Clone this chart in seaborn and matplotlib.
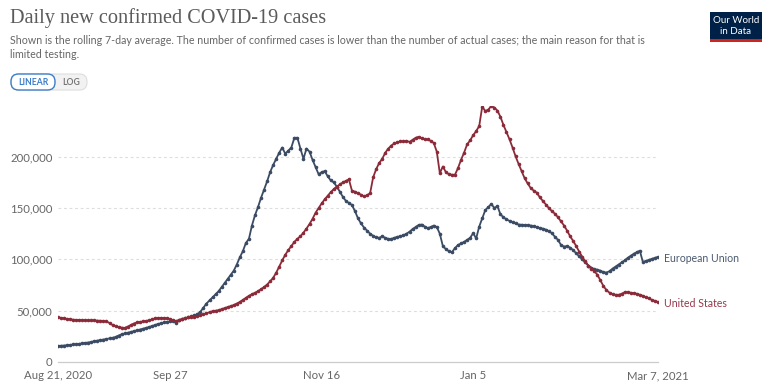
import matplotlib
matplotlib.use("Agg")
import matplotlib.pyplot as plt
from matplotlib.patches import FancyBboxPatch, Rectangle
from matplotlib.ticker import FuncFormatter
import seaborn as sns
import pandas as pd

# daily 7-day average of new cases, thousands, Aug 21 2020 .. Mar 7 2021
eu_cases = [
    15.6, 15.8, 16.0, 16.3, 16.7, 17.1, 17.4, 17.7, 18.1, 18.6,
    19.0, 19.5, 20.3, 20.8, 21.3, 21.8, 22.4, 23.0, 23.6, 24.4,
    25.8, 27.0, 27.8, 28.5, 29.2, 30.0, 30.8, 31.6, 32.4, 33.2,
    34.0, 35.0, 36.0, 37.0, 37.8, 38.5, 39.0, 39.5, 40.0, 38.0,
    40.5, 41.5, 42.5, 43.5, 44.5, 45.5, 46.5, 49.0, 53.0, 57.0,
    60.0, 63.0, 66.0, 69.0, 73.0, 77.0, 81.0, 85.0, 89.0, 95.0,
    102.0, 108.0, 116.0, 120.0, 133.0, 143.0, 151.0, 160.0, 168.0, 176.0,
    185.0, 192.0, 198.0, 204.0, 209.0, 203.0, 206.0, 209.0, 218.5, 218.5,
    208.0, 198.0, 208.0, 205.0, 197.0, 190.0, 183.0, 185.0, 186.0, 181.0,
    177.0, 175.0, 171.0, 166.0, 161.0, 157.0, 155.0, 153.0, 147.0, 140.0,
    135.0, 131.0, 128.0, 125.0, 123.0, 121.5, 121.0, 122.5, 121.0, 120.0,
    120.0, 121.0, 122.0, 122.5, 123.5, 125.0, 127.0, 129.5, 131.5, 133.5,
    134.0, 132.0, 130.5, 131.5, 133.0, 131.5, 125.0, 113.0, 110.0, 108.0,
    107.0, 111.0, 114.0, 115.5, 117.0, 119.0, 121.0, 125.5, 120.5, 132.0,
    140.0, 148.0, 151.0, 154.0, 150.0, 152.0, 144.0, 141.0, 139.0, 137.5,
    136.0, 135.0, 134.0, 133.8, 133.5, 133.3, 133.0, 132.5, 131.5, 130.5,
    130.0, 129.0, 127.5, 125.5, 122.0, 119.0, 114.0, 112.5, 113.0, 111.5,
    109.0, 106.0, 103.0, 100.0, 97.0, 94.0, 92.0, 90.5, 90.0, 89.0,
    87.5, 87.2, 88.5, 91.0, 93.0, 95.0, 97.0, 99.0, 101.5, 103.5,
    105.5, 107.0, 108.5, 97.5, 98.5, 99.5, 100.5, 101.5, 102.5,
]
us_cases = [
    43.5, 43.0, 42.5, 42.0, 41.5, 41.2, 41.0, 41.0, 40.8, 40.6,
    40.5, 40.5, 40.5, 40.3, 40.2, 40.0, 39.5, 38.0, 36.0, 35.0,
    34.0, 33.5, 33.2, 34.5, 36.0, 37.5, 38.5, 39.0, 39.5, 40.0,
    40.5, 41.5, 42.5, 42.8, 43.0, 42.8, 42.5, 42.0, 40.5, 40.0,
    41.0, 42.0, 42.8, 43.5, 44.0, 44.2, 44.5, 45.5, 46.5, 47.5,
    48.5, 49.5, 50.0, 50.5, 51.5, 52.5, 53.5, 54.5, 55.5, 57.0,
    58.5, 60.5, 62.5, 64.5, 66.0, 67.5, 69.0, 71.0, 73.0, 75.5,
    78.5, 82.0, 87.0, 93.0, 99.0, 104.5, 109.0, 113.0, 117.0, 120.0,
    122.5, 126.0, 130.0, 134.5, 139.5, 145.5, 150.0, 154.5, 158.5, 162.0,
    165.5, 168.5, 171.0, 173.0, 175.0, 176.5, 178.0, 167.0, 166.0, 164.5,
    163.0, 161.5, 162.5, 164.5, 180.0, 188.0, 194.0, 198.0, 204.0, 208.0,
    211.0, 213.0, 214.0, 215.0, 215.0, 215.5, 214.5, 216.5, 218.5, 219.5,
    218.0, 217.0, 217.0, 215.5, 213.5, 205.0, 184.0, 190.5, 185.0, 183.0,
    182.5, 182.5, 189.0, 197.0, 204.0, 212.0, 216.0, 221.0, 225.0, 230.0,
    249.0, 244.5, 246.0, 249.5, 248.0, 245.0, 239.0, 231.0, 224.0, 217.0,
    209.0, 200.5, 193.0, 186.0, 179.0, 174.0, 169.5, 167.0, 165.0, 160.5,
    157.0, 153.5, 150.0, 147.0, 144.5, 141.0, 137.0, 133.0, 128.0, 122.5,
    118.0, 113.0, 107.5, 102.5, 98.0, 94.0, 91.0, 88.5, 85.0, 79.5,
    74.0, 70.0, 67.5, 66.0, 65.5, 65.5, 66.5, 68.0, 68.0, 67.5,
    67.0, 66.5, 65.5, 64.5, 63.0, 62.0, 60.5, 59.5, 58.5,
]
dates = pd.date_range("2020-08-21", "2021-03-07", freq="D")
tick_dates = pd.to_datetime(["2020-08-21", "2020-09-27", "2020-11-16", "2021-01-05", "2021-03-07"])
tick_labels = ["Aug 21, 2020", "Sep 27", "Nov 16", "Jan 5", "Mar 7, 2021"]
y_ticks = [0, 50000, 100000, 150000, 200000]

series = {"European Union": eu_cases, "United States": us_cases}
colors = {"European Union": "#3b4b63", "United States": "#8b2b3a"}
label_colors = {"European Union": "#4b5a70", "United States": "#96384a"}

df = pd.concat(
    [pd.DataFrame({"date": dates, "cases": [v * 1000 for v in vals], "country": name})
     for name, vals in series.items()],
    ignore_index=True,
)

sns.set_style("white")
plt.rcParams["font.family"] = ["Lato", "DejaVu Sans"]

W, H = 772, 391
fig = plt.figure(figsize=(W / 100, H / 100), dpi=100)

# full-figure overlay in pixel units for header decorations
deco = fig.add_axes([0, 0, 1, 1], zorder=-1)
deco.set_xlim(0, W)
deco.set_ylim(H, 0)
deco.axis("off")

ax = fig.add_axes([58 / W, 1 - 362 / H, 600 / W, 256 / H])
sns.lineplot(data=df, x="date", y="cases", hue="country", palette=colors,
             marker="o", markersize=2.6, markeredgewidth=0, linewidth=1.3,
             legend=False, ax=ax)

ax.set_xlim(dates[0], dates[-1])
ax.set_ylim(0, df["cases"].max())
ax.set_xlabel("")
ax.set_ylabel("")
ax.set_yticks(y_ticks)
ax.yaxis.set_major_formatter(FuncFormatter(lambda v, p: f"{int(v):,}"))
ax.set_xticks(tick_dates)
ax.set_xticklabels(tick_labels)
ax.tick_params(axis="y", length=0, pad=4, labelsize=8.2, labelcolor="#666666")
ax.tick_params(axis="x", length=4, width=0.8, color="#cccccc", pad=2,
               labelsize=8.2, labelcolor="#666666")
for v in y_ticks[1:]:
    ax.axhline(v, color="#dddddd", linewidth=0.8, linestyle=(0, (2.5, 2.5)), zorder=0)
for s in ["top", "right", "left"]:
    ax.spines[s].set_visible(False)
ax.spines["bottom"].set_color("#cccccc")
ax.spines["bottom"].set_linewidth(0.9)
ax.patch.set_alpha(0)

for name, vals in series.items():
    ax.annotate(name, xy=(dates[-1], vals[-1] * 1000), xytext=(4, -1),
                textcoords="offset points", va="center", ha="left",
                fontsize=7.6, color=label_colors[name], annotation_clip=False)

# header
deco.text(10, 18, "Daily new confirmed COVID-19 cases", family="Liberation Serif",
          fontsize=14.6, color="#5b5b5b", va="center", ha="left")
deco.text(10, 41, "Shown is the rolling 7-day average. The number of confirmed cases is lower "
          "than the number of actual cases; the main reason for that is",
          fontsize=7.65, color="#666666", va="center", ha="left")
deco.text(10, 54, "limited testing.", fontsize=7.65, color="#666666", va="center", ha="left")

# linear / log toggle
deco.add_patch(FancyBboxPatch((11, 74), 76, 16, boxstyle="round,pad=0,rounding_size=7.5",
                              facecolor="#f2f2f2", edgecolor="#dddddd", linewidth=0.8))
deco.add_patch(FancyBboxPatch((11, 74), 44, 16, boxstyle="round,pad=0,rounding_size=7.5",
                              facecolor="white", edgecolor="#3d7cc9", linewidth=1.0))
deco.text(33, 82.5, "LINEAR", fontsize=6.2, color="#3d7cc9", weight="bold",
          ha="center", va="center")
deco.text(71, 82.5, "LOG", fontsize=6.2, color="#777777", weight="bold",
          ha="center", va="center")

# logo
deco.add_patch(Rectangle((710, 12), 52, 30, facecolor="#002147", edgecolor="none"))
deco.add_patch(Rectangle((710, 38.5), 52, 3.5, facecolor="#ce261e", edgecolor="none"))
deco.text(736, 20.5, "Our World", fontsize=7, color="white", ha="center", va="center")
deco.text(736, 31, "in Data", fontsize=7, color="white", ha="center", va="center")

fig.savefig("out.png", dpi=100)
